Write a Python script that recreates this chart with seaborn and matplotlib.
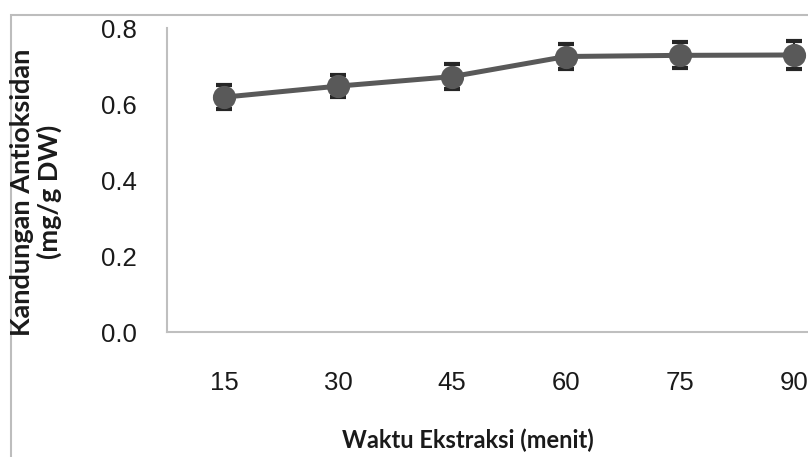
import matplotlib
matplotlib.use("Agg")
import matplotlib.pyplot as plt
import seaborn as sns
from matplotlib.patches import Rectangle

waktu = ["15", "30", "45", "60", "75", "90"]
kandungan = [0.618, 0.647, 0.672, 0.725, 0.728, 0.729]
galat = [0.031, 0.029, 0.032, 0.033, 0.034, 0.036]
y_ticks = [0.0, 0.2, 0.4, 0.6, 0.8]
y_labels = ["0.0", "0.2", "0.4", "0.6", "0.8"]

sns.set_theme(style="white")
plt.rcParams['font.family'] = ['Liberation Sans', 'DejaVu Sans']

W, H = 808, 457
fig = plt.figure(figsize=(W / 100, H / 100), dpi=100)
fig.patch.set_facecolor("white")

# outer chart border (cropped on right/bottom)
fig.patches.append(Rectangle((11 / W, -0.1), 1.2, (H - 15) / H + 0.1,
                             transform=fig.transFigure, fill=False,
                             edgecolor="#bdbdbd", linewidth=1.5))

ax = fig.add_axes([167 / W, 125 / H, 684 / W, 304 / H])
ax.set_facecolor("none")

sns.pointplot(x=waktu, y=kandungan, errorbar=None, color="#595959",
              markers="o", linestyles="-", ax=ax,
              markersize=14, linewidth=3.6)
ax.errorbar(range(len(waktu)), kandungan, yerr=galat, fmt="none",
            ecolor="#262626", elinewidth=1.5, capsize=5.5, capthick=3,
            zorder=1)

ax.set_xlim(-0.5, 5.5)
ax.set_ylim(0, 0.8)
ax.set_yticks(y_ticks)
ax.set_yticklabels(y_labels)

for s in ["top", "right"]:
    ax.spines[s].set_visible(False)
for s in ["left", "bottom"]:
    ax.spines[s].set_color("#bfbfbf")
    ax.spines[s].set_linewidth(1.5)

ax.tick_params(axis="y", length=0, pad=22, labelsize=18.5, colors="#1a1a1a")
ax.tick_params(axis="x", length=0, pad=28, labelsize=18.5, colors="#1a1a1a")

ax.set_xlabel("")
ax.set_ylabel("")
fig.text(468 / W, 1 - 440 / H, "Waktu Ekstraksi (menit)", ha="center",
         va="center", fontsize=17, fontweight="bold", color="#1a1a1a",
         family=["Lato", "DejaVu Sans"])
fig.text(36 / W, 1 - 192 / H, "Kandungan Antioksidan\n(mg/g DW)", ha="center",
         va="center", rotation=90, fontsize=19.5, fontweight="bold",
         color="#1a1a1a", linespacing=1.15, family=["Lato", "DejaVu Sans"])

fig.savefig("out.png", dpi=100)
